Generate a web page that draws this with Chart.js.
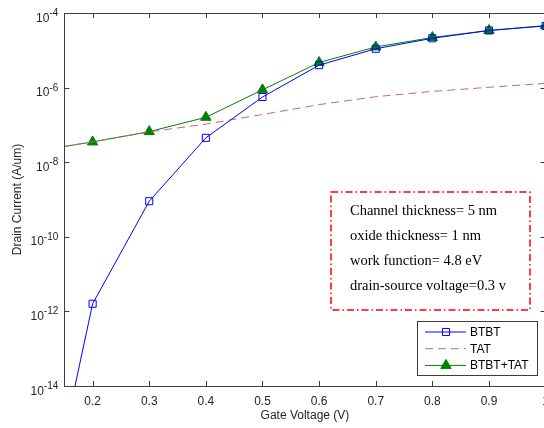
<!DOCTYPE html>
<html>
<head>
<meta charset="utf-8">
<script src="https://cdn.jsdelivr.net/npm/chart.js@4.4.1/dist/chart.umd.min.js"></script>
<style>
  html, body { margin: 0; padding: 0; background: #fff; overflow: hidden; width: 544px; height: 428px; }
  #wrap { width: 560px; height: 428px; }
</style>
</head>
<body>
<div id="wrap"><canvas id="chart" width="560" height="428"></canvas></div>
<script>
// Drain current vs gate voltage, BTBT / TAT / combined.
const gateVoltage = [0.1, 0.2, 0.3, 0.4, 0.5, 0.6, 0.7, 0.8, 0.9, 1.0];
const btbtCurrent = [1.3e-19, 1.6e-12, 9e-10, 4.5e-8, 5.6e-7, 4.0e-6, 1.1e-5, 2.1e-5, 3.4e-5, 4.5e-5];
const tatCurrent = [2.0e-8, 3.5e-8, 6.5e-8, 1.05e-7, 1.9e-7, 3.5e-7, 5.7e-7, 7.9e-7, 1.02e-6, 1.3e-6];
const totalCurrent = [2.0e-8, 3.5e-8, 6.6e-8, 1.6e-7, 8.7e-7, 4.7e-6, 1.23e-5, 2.2e-5, 3.4e-5, 4.6e-5];

const xTicks = [0.2, 0.3, 0.4, 0.5, 0.6, 0.7, 0.8, 0.9, 1.0];
const yTicks = [1e-14, 1e-12, 1e-10, 1e-8, 1e-6, 1e-4];

const infoLines = [
  "Channel thickness= 5 nm",
  "oxide thickness= 1 nm",
  "work function= 4.8 eV",
  "drain-source voltage=0.3 v",
];

const SANS = '"Liberation Sans", Arial, Helvetica, sans-serif';
const SERIF = '"Liberation Serif", "Times New Roman", serif';
const AXIS_COLOR = "#3c3c3c";
const TAT_COLOR = "#c86478";

const pts = (ys) => gateVoltage.map((x, i) => ({ x, y: ys[i] }));

// Boxed axes with inward ticks, y labels as 10^n, info box and legend.
const decor = {
  id: "decor",
  afterDraw(chart) {
    const { ctx, chartArea: a, scales } = chart;
    const xs = scales.x, ys = scales.y;
    ctx.save();

    ctx.strokeStyle = AXIS_COLOR;
    ctx.lineWidth = 1;
    ctx.strokeRect(Math.round(a.left) + 0.5, Math.round(a.top) + 0.5,
      Math.round(a.right - a.left), Math.round(a.bottom - a.top));
    ctx.beginPath();
    for (const v of xTicks) {
      const px = Math.round(xs.getPixelForValue(v)) + 0.5;
      ctx.moveTo(px, a.bottom); ctx.lineTo(px, a.bottom - 5);
      ctx.moveTo(px, a.top); ctx.lineTo(px, a.top + 5);
    }
    for (const v of yTicks) {
      const py = Math.round(ys.getPixelForValue(v)) + 0.5;
      ctx.moveTo(a.left, py); ctx.lineTo(a.left + 5, py);
      ctx.moveTo(a.right, py); ctx.lineTo(a.right - 5, py);
    }
    ctx.stroke();

    // y tick labels with superscript exponents
    ctx.fillStyle = "#262626";
    ctx.textBaseline = "alphabetic";
    ctx.textAlign = "left";
    for (const v of yTicks) {
      const py = ys.getPixelForValue(v);
      const exp = String(Math.round(Math.log10(v)));
      ctx.font = "10px " + SANS;
      const ew = ctx.measureText(exp).width;
      ctx.fillText(exp, a.left - 6 - ew, py + 3);
      ctx.font = "12px " + SANS;
      const bw = ctx.measureText("10").width;
      ctx.fillText("10", a.left - 6 - ew - bw, py + 8.5);
    }

    // parameter box
    const bx = 331, by = 192, bw = 199, bh = 118;
    ctx.fillStyle = "#fff";
    ctx.fillRect(bx, by, bw, bh);
    ctx.strokeStyle = "#ff0000";
    ctx.lineWidth = 1.5;
    ctx.setLineDash([7, 3, 1.5, 3]);
    ctx.strokeRect(bx, by, bw, bh);
    ctx.setLineDash([]);
    ctx.fillStyle = "#000";
    ctx.font = "14.5px " + SERIF;
    ctx.textBaseline = "middle";
    infoLines.forEach((t, i) => ctx.fillText(t, 350, 211 + i * 25));

    // legend
    const lx = 417.5, ly = 321.5, lw = 120, lh = 54;
    ctx.fillStyle = "#fff";
    ctx.fillRect(lx, ly, lw, lh);
    ctx.strokeStyle = AXIS_COLOR;
    ctx.lineWidth = 1;
    ctx.strokeRect(lx, ly, lw, lh);
    ctx.font = "12px " + SANS;
    chart.data.datasets.forEach((ds, i) => {
      const y = 332 + i * 16.7;
      ctx.strokeStyle = ds.borderColor;
      ctx.lineWidth = ds.borderWidth;
      ctx.setLineDash(ds.borderDash || []);
      ctx.beginPath();
      ctx.moveTo(425, y); ctx.lineTo(466, y);
      ctx.stroke();
      ctx.setLineDash([]);
      if (ds.pointStyle && ds.pointRadius > 0) {
        ctx.fillStyle = ds.pointBackgroundColor;
        ctx.strokeStyle = ds.pointBorderColor;
        Chart.helpers.drawPoint(ctx, {
          pointStyle: ds.pointStyle, radius: ds.pointRadius, borderWidth: 1,
        }, 446, y);
      }
      ctx.fillStyle = "#000";
      ctx.fillText(ds.label, 470, y + 0.5);
    });
    ctx.restore();
  },
};

new Chart(document.getElementById("chart"), {
  type: "line",
  data: {
    datasets: [
      {
        label: "BTBT", data: pts(btbtCurrent),
        borderColor: "#0000ff", borderWidth: 1,
        pointStyle: "rect", pointRadius: 5, pointBorderWidth: 1,
        pointBackgroundColor: "rgba(0,0,0,0)", pointBorderColor: "#0000ff",
      },
      {
        label: "TAT", data: pts(tatCurrent),
        borderColor: TAT_COLOR, borderWidth: 1, borderDash: [8, 5],
        pointRadius: 0,
      },
      {
        label: "BTBT+TAT", data: pts(totalCurrent),
        borderColor: "#008000", borderWidth: 1,
        pointStyle: "triangle", pointRadius: 6, pointBorderWidth: 1,
        pointBackgroundColor: "#008000", pointBorderColor: "#008000",
      },
    ],
  },
  options: {
    responsive: false,
    animation: false,
    devicePixelRatio: 1,
    layout: { padding: { left: 0, top: 13, right: 14.4, bottom: 0 } },
    plugins: { legend: { display: false }, tooltip: { enabled: false } },
    elements: { line: { tension: 0 } },
    scales: {
      x: {
        type: "linear", min: 0.15, max: 1.0,
        afterBuildTicks: (s) => { s.ticks = xTicks.map((v) => ({ value: v })); },
        afterFit: (s) => { s.height = 42; },
        grid: { display: false, drawTicks: false },
        border: { display: false },
        ticks: {
          padding: 8, color: "#262626", font: { family: SANS, size: 12 },
          maxRotation: 0, autoSkip: false,
          callback: (v) => String(Math.round(v * 10) / 10),
        },
        title: {
          display: true, text: "Gate Voltage (V)", color: "#262626",
          font: { family: SANS, size: 12 }, padding: { top: 0, bottom: 5 },
        },
      },
      y: {
        type: "logarithmic", min: 1e-14, max: 1e-4,
        afterBuildTicks: (s) => { s.ticks = yTicks.map((v) => ({ value: v })); },
        afterFit: (s) => { s.width = 64.3; },
        grid: { display: false, drawTicks: false },
        border: { display: false },
        ticks: { display: false },
        title: {
          display: true, text: "Drain Current (A/um)", color: "#262626",
          font: { family: SANS, size: 12 }, padding: { top: 10, bottom: 0 },
        },
      },
    },
  },
  plugins: [decor],
});
</script>
</body>
</html>
